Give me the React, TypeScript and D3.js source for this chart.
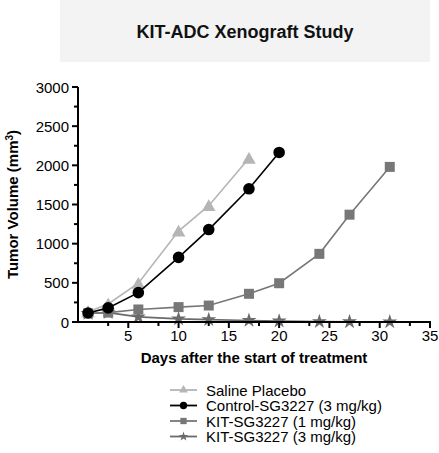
import React from "react";
import * as d3 from "d3";

const salineDays = [1, 3, 6, 10, 13, 17];
const salineVals = [130, 230, 495, 1160, 1485, 2090];
const controlDays = [1, 3, 6, 10, 13, 17, 20];
const controlVals = [115, 180, 375, 825, 1180, 1700, 2165];
const kit1Days = [1, 3, 6, 10, 13, 17, 20, 24, 27, 31];
const kit1Vals = [110, 120, 160, 190, 210, 360, 495, 870, 1370, 1980];
const kit3Days = [1, 3, 6, 10, 13, 17, 20, 24, 27, 31];
const kit3Vals = [110, 120, 65, 40, 30, 20, 12, 5, 3, 2];

const xMajor = [5, 10, 15, 20, 25, 30, 35];
const xMinor = [3, 8, 13, 18, 23, 28, 33];
const yMajor = [0, 500, 1000, 1500, 2000, 2500, 3000];
const yMinor = [250, 750, 1250, 1750, 2250, 2750];

const seriesNames = [
  "Saline Placebo",
  "Control-SG3227 (3 mg/kg)",
  "KIT-SG3227 (1 mg/kg)",
  "KIT-SG3227 (3 mg/kg)",
];

const FONT = "'Liberation Sans', Arial, Helvetica, sans-serif";

export default function App() {
  const x = d3.scaleLinear().domain([0, 35]).range([78, 430]);
  const y = d3.scaleLinear().domain([0, 3000]).range([322, 87]);

  const series = [
    { name: seriesNames[0], days: salineDays, vals: salineVals, color: "#b5b5b5", shape: "triangle" },
    { name: seriesNames[1], days: controlDays, vals: controlVals, color: "#000000", shape: "circle" },
    { name: seriesNames[2], days: kit1Days, vals: kit1Vals, color: "#777777", shape: "square" },
    { name: seriesNames[3], days: kit3Days, vals: kit3Vals, color: "#6a6a6a", shape: "star" },
  ];

  const line = d3.line<[number, number]>().x((d) => x(d[0])).y((d) => y(d[1]));

  const symbolFor = (shape: string) =>
    shape === "triangle"
      ? d3.symbolTriangle
      : shape === "circle"
      ? d3.symbolCircle
      : shape === "square"
      ? d3.symbolSquare
      : d3.symbolStar;

  const sizeFor = (shape: string) =>
    shape === "triangle" ? 80 : shape === "circle" ? 105 : shape === "square" ? 100 : 70;

  const drawOrder = [3, 2, 0, 1];

  return (
    <svg width={439} height={453} style={{ position: "absolute", left: 0, top: 0 }} fontFamily={FONT}>
      <rect x={60} y={0} width={370} height={62} fill="#f3f3f3" />
      <text x={245} y={38} textAnchor="middle" fontSize={18} fontWeight="bold" fill="#111">
        KIT-ADC Xenograft Study
      </text>

      {/* series */}
      {drawOrder.map((i) => {
        const s = series[i];
        const pts = s.days.map((d, j) => [d, s.vals[j]] as [number, number]);
        const sym = d3.symbol().type(symbolFor(s.shape)).size(sizeFor(s.shape));
        return (
          <g key={s.name}>
            <path d={line(pts) || ""} fill="none" stroke={s.color} strokeWidth={1.6} />
            {pts.map((p, j) => (
              <path
                key={j}
                d={sym() || ""}
                transform={`translate(${x(p[0])},${y(p[1]) + (s.shape === "triangle" ? 1.5 : 0)})`}
                fill={s.color}
              />
            ))}
          </g>
        );
      })}

      {/* y axis */}
      <line x1={78} x2={78} y1={y(3000)} y2={y(0) + 1} stroke="#000" strokeWidth={2} />
      {yMajor.map((v) => (
        <g key={v}>
          <line x1={72} x2={78} y1={y(v)} y2={y(v)} stroke="#000" strokeWidth={2} />
          <text x={69} y={y(v) + 5.5} textAnchor="end" fontSize={15} fill="#000">
            {v}
          </text>
        </g>
      ))}
      {yMinor.map((v) => (
        <line key={v} x1={74} x2={78} y1={y(v)} y2={y(v)} stroke="#000" strokeWidth={2} />
      ))}
      <text
        transform={`translate(18,${y(1500)}) rotate(-90)`}
        textAnchor="middle"
        fontSize={15}
        fontWeight="bold"
        fill="#000"
      >
        Tumor Volume (mm<tspan fontSize={10} dy={-5}>3</tspan>
        <tspan dy={5}>)</tspan>
      </text>

      {/* x axis */}
      <line x1={77} x2={x(35) + 1} y1={322} y2={322} stroke="#000" strokeWidth={2} />
      {xMajor.map((v) => (
        <g key={v}>
          <line x1={x(v)} x2={x(v)} y1={322} y2={328} stroke="#000" strokeWidth={2} />
          <text x={x(v)} y={341} textAnchor="middle" fontSize={15} fill="#000">
            {v}
          </text>
        </g>
      ))}
      {xMinor.map((v) => (
        <line key={v} x1={x(v)} x2={x(v)} y1={322} y2={326} stroke="#000" strokeWidth={2} />
      ))}
      <text x={254} y={363} textAnchor="middle" fontSize={15} fontWeight="bold" fill="#000">
        Days after the start of treatment
      </text>

      {/* legend */}
      {series.map((s, i) => {
        const ly = 390 + i * 15.5;
        const sym = d3.symbol().type(symbolFor(s.shape)).size(sizeFor(s.shape) * 0.4);
        return (
          <g key={s.name}>
            <line x1={170} x2={197} y1={ly} y2={ly} stroke={s.color} strokeWidth={1.8} />
            <path d={sym() || ""} transform={`translate(183.5,${ly})`} fill={s.color} />
            <text x={206} y={ly + 5.5} fontSize={15} fill="#000">
              {s.name}
            </text>
          </g>
        );
      })}
    </svg>
  );
}
